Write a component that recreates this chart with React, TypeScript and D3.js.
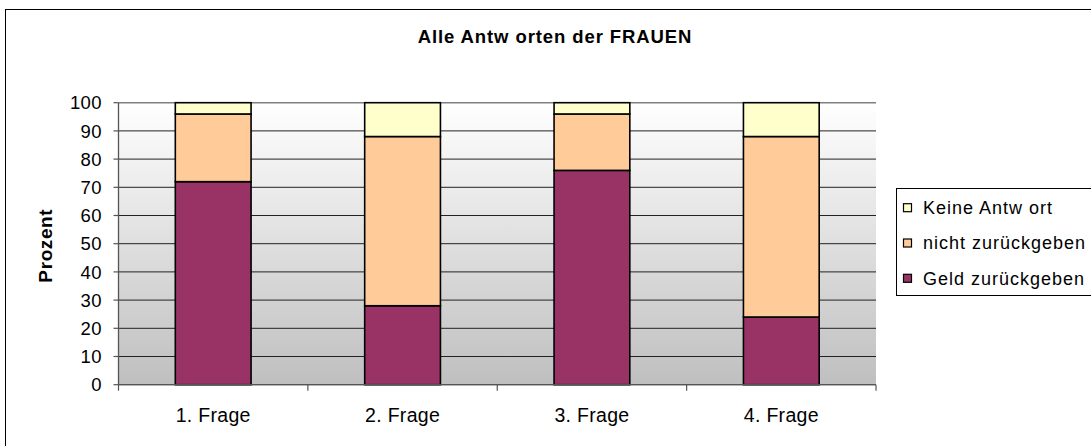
import React from "react";
import * as d3 from "d3";

const categories = ["1. Frage", "2. Frage", "3. Frage", "4. Frage"];
const geldZurueck = [72, 28, 76, 24];
const nichtZurueck = [24, 60, 20, 64];
const keineAntwort = [4, 12, 4, 12];
const yTicks = [0, 10, 20, 30, 40, 50, 60, 70, 80, 90, 100];
const seriesNames = ["Geld zurückgeben", "nicht zurückgeben", "Keine Antw ort"];
const seriesColors = ["#993366", "#FFCC99", "#FFFFCC"];
const legendOrder = [2, 1, 0];
const title = "Alle Antw orten der FRAUEN";
const yLabel = "Prozent";

const W = 1091;
const H = 446;
const plot = { left: 118.5, right: 876, top: 102.7, bottom: 384.7 };

export default function App() {
  const x = d3
    .scaleBand<string>()
    .domain(categories)
    .range([plot.left, plot.right])
    .paddingInner(0.6)
    .paddingOuter(0.3);
  const y = d3.scaleLinear().domain([0, 100]).range([plot.bottom, plot.top]);

  const rows = categories.map((c, i) => ({
    cat: c,
    s0: geldZurueck[i],
    s1: nichtZurueck[i],
    s2: keineAntwort[i],
  }));
  const stack = d3.stack<any>().keys(["s0", "s1", "s2"]);
  const layers = stack(rows);

  const step = x.step();
  const boundaries = categories.map((c) => (x(c) as number) - (step - x.bandwidth()) / 2);
  boundaries.push(plot.right);

  const font = "'Liberation Sans', Arial, Helvetica, sans-serif";

  return (
    <svg
      width={W}
      height={H}
      style={{ position: "absolute", left: 0, top: 0, background: "#fff" }}
      fontFamily={font}
    >
      <defs>
        <linearGradient id="bg" x1="0" y1="0" x2="0" y2="1">
          <stop offset="0" stopColor="#ffffff" />
          <stop offset="1" stopColor="#bfbfbf" />
        </linearGradient>
      </defs>
      {/* outer frame */}
      <rect x={5.5} y={9.5} width={1200} height={600} fill="#fff" stroke="#000" strokeWidth={1} />

      <text
        x={555}
        y={43}
        textAnchor="middle"
        fontSize={18.5}
        fontWeight="bold"
        letterSpacing={0.9}
        fill="#000"
      >
        {title}
      </text>

      {/* plot background */}
      <rect
        x={plot.left}
        y={plot.top}
        width={plot.right - plot.left}
        height={plot.bottom - plot.top}
        fill="url(#bg)"
      />

      {/* gridlines */}
      {yTicks.map((t) => (
        <line
          key={"g" + t}
          x1={plot.left}
          x2={plot.right}
          y1={y(t)}
          y2={y(t)}
          stroke={t === 100 ? "#808080" : "#222"}
          strokeWidth={t === 100 ? 1.5 : 1}
        />
      ))}

      {/* bars */}
      {layers.map((layer, li) =>
        layer.map((d, i) => (
          <rect
            key={li + "-" + i}
            x={x(categories[i])}
            y={y(d[1])}
            width={x.bandwidth()}
            height={y(d[0]) - y(d[1])}
            fill={seriesColors[li]}
            stroke="#000"
            strokeWidth={1.6}
          />
        ))
      )}

      {/* y axis */}
      <line x1={plot.left} x2={plot.left} y1={plot.top} y2={plot.bottom} stroke="#555" strokeWidth={1.3} />
      {yTicks.map((t) => (
        <g key={"t" + t}>
          <line x1={plot.left - 5} x2={plot.left} y1={y(t)} y2={y(t)} stroke="#555" strokeWidth={1.2} />
          <text
            x={plot.left - 16.5}
            y={y(t)}
            dy="0.36em"
            textAnchor="end"
            fontSize={18.5}
            letterSpacing={0.4}
            fill="#000"
          >
            {t}
          </text>
        </g>
      ))}

      {/* x axis */}
      <line x1={plot.left} x2={plot.right} y1={plot.bottom} y2={plot.bottom} stroke="#555" strokeWidth={1.3} />
      {boundaries.map((b, i) => (
        <line key={"b" + i} x1={b} x2={b} y1={plot.bottom} y2={plot.bottom + 6} stroke="#555" strokeWidth={1.2} />
      ))}
      {categories.map((c) => (
        <text
          key={c}
          x={(x(c) as number) + x.bandwidth() / 2}
          y={421.5}
          textAnchor="middle"
          fontSize={19.5}
          letterSpacing={0.3}
          fill="#000"
        >
          {c}
        </text>
      ))}

      <text
        transform={`translate(45, ${(plot.top + plot.bottom) / 2 + 2}) rotate(-90)`}
        textAnchor="middle"
        dy="0.36em"
        fontSize={19}
        fontWeight="bold"
        letterSpacing={0.6}
        fill="#000"
      >
        {yLabel}
      </text>

      {/* legend */}
      <rect x={896.5} y={188.5} width={300} height={107} fill="#fff" stroke="#000" strokeWidth={1} />
      {legendOrder.map((si, row) => {
        const cy = 207.7 + row * 35.3;
        return (
          <g key={"l" + si}>
            <rect x={903.5} y={cy - 4} width={8} height={8} fill={seriesColors[si]} stroke="#000" strokeWidth={1.2} />
            <text x={923} y={cy} dy="0.36em" fontSize={18} letterSpacing={1} fill="#000">
              {seriesNames[si]}
            </text>
          </g>
        );
      })}
    </svg>
  );
}
